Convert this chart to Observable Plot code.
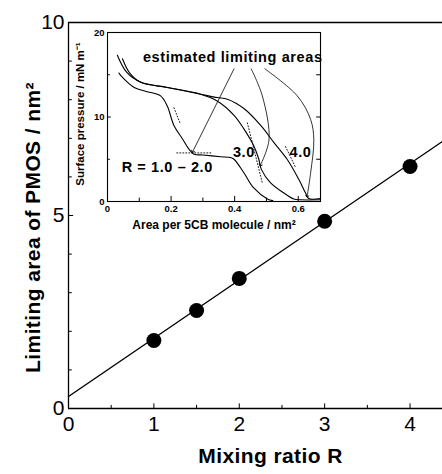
<!DOCTYPE html>
<html><head><meta charset="utf-8">
<script src="https://cdn.jsdelivr.net/npm/d3@7"></script>
<script src="https://cdn.jsdelivr.net/npm/@observablehq/plot@0.6"></script>
<style>
body{margin:0;background:#fff;}
#wrap{position:relative;width:442px;height:474px;overflow:hidden;background:#fff;}
#inset{position:absolute;left:70px;top:25px;}
svg{font-family:"Liberation Sans",Arial,sans-serif;}
</style></head><body><div id="wrap"><div id="main"></div><div id="inset"></div></div>
<script>
// ---- main chart data ----
const ratioR = [1.0, 1.5, 2.0, 3.0, 4.0];
const limitingArea = [1.76, 2.54, 3.37, 4.85, 6.27];
const fitR = [0, 4.38];
const fitArea = [0.31, 6.92];
const mainXTicks = [0, 1, 2, 3, 4];
const mainXMinor = [0.5, 1.5, 2.5, 3.5];
const mainYTicks = [0, 5, 10];
const mainYMinor = [1, 2, 3, 4, 6, 7, 8, 9];
const mainXLabel = "Mixing ratio R";
const mainYLabel = "Limiting area of PMOS / nm²";

// ---- inset data ----
const curveAx = [0.036, 0.042, 0.084, 0.125, 0.167, 0.188, 0.209, 0.236, 0.256, 0.272, 0.300, 0.356, 0.387, 0.398, 0.429, 0.460, 0.503, 0.520];
const curveAy = [15.2, 14.9, 13.5, 13.0, 12.5, 11.3, 9.0, 7.4, 6.2, 5.6, 5.5, 5.3, 5.2, 5.0, 3.4, 1.6, 0.3, 0.1];
const curveBx = [0.031, 0.060, 0.105, 0.188, 0.293, 0.345, 0.398, 0.429, 0.460, 0.476, 0.484, 0.513, 0.555, 0.586, 0.607, 0.670];
const curveBy = [17.3, 15.3, 14.1, 13.5, 12.7, 11.9, 10.2, 8.6, 6.6, 5.0, 3.8, 2.2, 1.0, 0.3, 0.2, 0.2];
const curveCx = [0.047, 0.070, 0.105, 0.188, 0.293, 0.345, 0.377, 0.429, 0.482, 0.523, 0.565, 0.602, 0.623, 0.633, 0.670];
const curveCy = [16.9, 15.2, 14.1, 13.5, 12.7, 12.3, 12.1, 11.0, 9.0, 7.0, 5.0, 2.6, 1.0, 0.35, 0.35];
const tangentIds = ["a1", "a1", "a2", "a2", "b", "b", "c", "c"];
const tangentX = [0.209, 0.228, 0.218, 0.325, 0.440, 0.487, 0.560, 0.592];
const tangentY = [11.1, 9.3, 5.75, 5.75, 9.3, 2.2, 6.5, 4.0];
const arrowIds = ["1", "1", "2", "2", "2", "2", "3", "3", "3", "3", "3", "3"];
const arrowX = [0.398, 0.268, 0.452, 0.487, 0.508, 0.481, 0.495, 0.597, 0.639, 0.649, 0.639, 0.628];
const arrowY = [15.7, 5.9, 15.7, 12.5, 7.3, 4.3, 15.7, 12.5, 9.7, 7.3, 3.4, 0.6];
const insetXTicks = [0, 0.2, 0.4, 0.6];
const insetXMinor = [0.1, 0.3, 0.5];
const insetYTicks = [0, 10, 20];
const insetYMinor = [5, 15];
const insetNotes = ["estimated limiting areas", "3.0", "4.0", "R = 1.0 – 2.0"];
const insetNoteX = [0.394, 0.429, 0.607, 0.188];
const insetNoteY = [17.1, 5.8, 5.8, 4.0];
const insetXLabel = "Area per 5CB molecule / nm²";
const insetYLabel = "Surface pressure / mN m⁻¹";

const font = '"Liberation Sans", Arial, sans-serif';
const points = ratioR.map((r, i) => ({r, a: limitingArea[i]}));
const fit = fitR.map((r, i) => ({r, a: fitArea[i]}));

const main = Plot.plot({
  width: 442, height: 474,
  marginLeft: 68, marginRight: 0, marginTop: 22, marginBottom: 66,
  style: {fontFamily: font, background: "white", color: "black"},
  x: {domain: [0, 4.38]},
  y: {domain: [0, 10]},
  marks: [
    Plot.ruleY([0, 10], {stroke: "black", strokeWidth: 1.3}),
    Plot.ruleX([0], {stroke: "black", strokeWidth: 1.3}),
    Plot.ruleX(mainXTicks, {x: d => d, y1: 0, y2: 0.12, stroke: "black"}),
    Plot.ruleX(mainXMinor, {x: d => d, y1: 0, y2: 0.08, stroke: "black"}),
    Plot.ruleY(mainYTicks, {y: d => d, x1: 0, x2: 0.06, stroke: "black"}),
    Plot.ruleY(mainYMinor, {y: d => d, x1: 0, x2: 0.045, stroke: "black"}),
    Plot.axisX({ticks: mainXTicks, tickSize: 0, tickPadding: 8, fontSize: 21, label: null, tickFormat: d => String(d)}),
    Plot.axisY({ticks: mainYTicks, tickSize: 0, tickPadding: 4, fontSize: 21, label: null, tickFormat: d => String(d)}),
    Plot.line(fit, {x: "r", y: "a", stroke: "black", strokeWidth: 1.4}),
    Plot.dot(points, {x: "r", y: "a", r: 7.5, fill: "black", stroke: "none"}),
    Plot.text([mainXLabel], {text: d => d, frameAnchor: "bottom", dy: 54, dx: 15, fontSize: 21, fontWeight: "bold", textAnchor: "middle", className: "spaced"}),
    Plot.text([mainYLabel], {text: d => d, frameAnchor: "left", textAnchor: "middle", rotate: -90, dx: -35, dy: 12, fontSize: 21, fontWeight: "bold", className: "spaced"})
  ]
});
document.getElementById("main").append(main);

const curves = [
  ...curveAx.map((x, i) => ({id: "A", x, y: curveAy[i]})),
  ...curveBx.map((x, i) => ({id: "B", x, y: curveBy[i]})),
  ...curveCx.map((x, i) => ({id: "C", x, y: curveCy[i]}))
];
const tangents = tangentX.map((x, i) => ({id: tangentIds[i], x, y: tangentY[i]}));
const arrows = arrowX.map((x, i) => ({id: arrowIds[i], x, y: arrowY[i]}));
const notes = insetNotes.map((t, i) => ({t, x: insetNoteX[i], y: insetNoteY[i]}));

const inset = Plot.plot({
  width: 260, height: 215,
  marginLeft: 37, marginRight: 10, marginTop: 7, marginBottom: 39,
  style: {fontFamily: font, background: "transparent", color: "black", overflow: "visible"},
  x: {domain: [0, 0.67]},
  y: {domain: [0, 20]},
  marks: [
    Plot.frame({fill: "white", stroke: "black", strokeWidth: 1.1}),
    Plot.ruleX(insetXTicks, {x: d => d, y1: 0, y2: 0.6, stroke: "black"}),
    Plot.ruleX(insetXMinor, {x: d => d, y1: 0, y2: 0.4, stroke: "black"}),
    Plot.ruleY(insetYTicks, {y: d => d, x1: 0, x2: 0.012, stroke: "black"}),
    Plot.ruleY(insetYMinor, {y: d => d, x1: 0, x2: 0.009, stroke: "black"}),
    Plot.ruleY(insetYMinor.concat([10]), {y: d => d, x1: 0.658, x2: 0.67, stroke: "black"}),
    Plot.axisX({ticks: insetXTicks, tickSize: 0, tickPadding: 4, fontSize: 9.5, fontWeight: "bold", label: null, tickFormat: d => d === 0 ? "0" : d.toFixed(1)}),
    Plot.axisY({ticks: insetYTicks, tickSize: 0, tickPadding: 3, fontSize: 9.5, fontWeight: "bold", label: null, tickFormat: d => String(d)}),
    Plot.line(tangents, {x: "x", y: "y", z: "id", stroke: "black", strokeWidth: 0.9, strokeDasharray: "1,2"}),
    Plot.line(curves, {x: "x", y: "y", z: "id", stroke: "black", strokeWidth: 1.1, curve: "catmull-rom"}),
    Plot.line(arrows, {x: "x", y: "y", z: "id", stroke: "black", strokeWidth: 0.8, curve: "catmull-rom", markerEnd: "arrow"}),
    Plot.text(notes, {x: "x", y: "y", text: "t", fontSize: 14.5, fontWeight: "bold", fill: "black", className: "spaced2"}),
    Plot.text([insetXLabel], {text: d => d, frameAnchor: "bottom", textAnchor: "middle", dy: 27, fontSize: 12, fontWeight: "bold"}),
    Plot.text([insetYLabel], {text: d => d, frameAnchor: "left", textAnchor: "middle", rotate: -90, dx: -27, dy: -3, fontSize: 11.5, fontWeight: "bold"})
  ]
});
document.getElementById("inset").append(inset);
d3.selectAll("g.spaced text").style("letter-spacing", "0.4px");
d3.selectAll("g.spaced2 text").style("letter-spacing", "0.6px");
</script></body></html>
